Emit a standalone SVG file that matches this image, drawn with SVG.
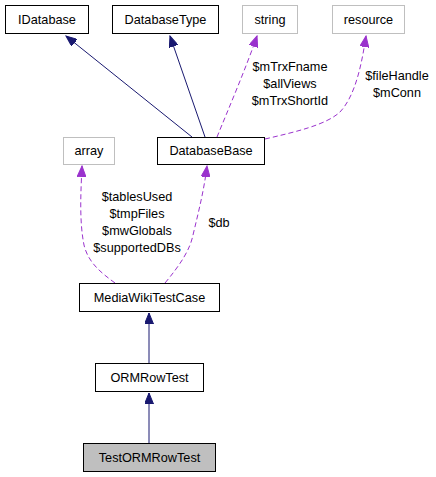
<svg xmlns="http://www.w3.org/2000/svg" width="436" height="477" viewBox="0 0 436 477">
<style>
text{font-family:"Liberation Sans",Arial,sans-serif;font-size:12.7px;fill:#000;text-anchor:middle}
.n rect{fill:#fff;stroke:#000;stroke-width:1}
.g rect{fill:#fff;stroke:#bfbfbf;stroke-width:1}
.h rect{fill:#bfbfbf;stroke:#000;stroke-width:1}
.inh{fill:none;stroke:#191970;stroke-width:1}
.use{fill:none;stroke:#9a32cd;stroke-width:1;stroke-dasharray:5,3}
</style>
<defs>
<marker id="an" markerUnits="userSpaceOnUse" markerWidth="12" markerHeight="9" refX="11" refY="4.5" orient="auto"><path d="M0,0 L11,4.5 L0,9 z" fill="#191970" stroke="#191970"/></marker>
<marker id="ap" markerUnits="userSpaceOnUse" markerWidth="12" markerHeight="9" refX="11" refY="4.5" orient="auto"><path d="M0,0 L11,4.5 L0,9 z" fill="#9a32cd" stroke="#9a32cd"/></marker>
</defs>
<g id="edges">
<path class="inh" d="M192,137 L66,36" marker-end="url(#an)"/>
<path class="inh" d="M205,137 L170,36" marker-end="url(#an)"/>
<path class="use" d="M217,137 C228,110 246,68 257,36" marker-end="url(#ap)"/>
<text x="290" y="71">$mTrxFname</text>
<text x="290" y="88">$allViews</text>
<text x="290" y="105">$mTrxShortId</text>
<path class="use" d="M265,139 C295,132 326,125 340,112 C356,95 362,62 366,36" marker-end="url(#ap)"/>
<text x="397" y="80">$fileHandle</text>
<text x="397" y="97">$mConn</text>
<path class="use" d="M115,283 C100,272 88,262 84,245 C79,220 81,190 82,166" marker-end="url(#ap)"/>
<text x="137" y="201">$tablesUsed</text>
<text x="137" y="218">$tmpFiles</text>
<text x="137" y="235">$mwGlobals</text>
<text x="137" y="252">$supportedDBs</text>
<path class="use" d="M165,283 C180,265 190,250 193,235 C199,210 204,190 207,166" marker-end="url(#ap)"/>
<text x="219" y="227">$db</text>
<path class="inh" d="M149,363 L149,313" marker-end="url(#an)"/>
<path class="inh" d="M149,443 L149,393" marker-end="url(#an)"/>
</g>
<g id="IDatabase" class="n"><rect x="5.5" y="5.5" width="83" height="28"/><text x="47" y="24">IDatabase</text></g>
<g id="DatabaseType" class="n"><rect x="112.5" y="5.5" width="106" height="28"/><text x="165.5" y="24">DatabaseType</text></g>
<g id="string" class="g"><rect x="242.5" y="5.5" width="55" height="28"/><text x="270" y="24">string</text></g>
<g id="resource" class="g"><rect x="332.5" y="5.5" width="72" height="28"/><text x="368.5" y="24">resource</text></g>
<g id="array" class="g"><rect x="63.5" y="137.5" width="51" height="27"/><text x="89" y="155">array</text></g>
<g id="DatabaseBase" class="n"><rect x="157.5" y="137.5" width="107" height="27"/><text x="211" y="155">DatabaseBase</text></g>
<g id="MediaWikiTestCase" class="n"><rect x="79.5" y="283.5" width="140" height="28"/><text x="149.5" y="302">MediaWikiTestCase</text></g>
<g id="ORMRowTest" class="n"><rect x="95.5" y="363.5" width="108" height="28"/><text x="149.5" y="382">ORMRowTest</text></g>
<g id="TestORMRowTest" class="h"><rect x="83.5" y="443.5" width="132" height="28"/><text x="149.5" y="462">TestORMRowTest</text></g>
</svg>
